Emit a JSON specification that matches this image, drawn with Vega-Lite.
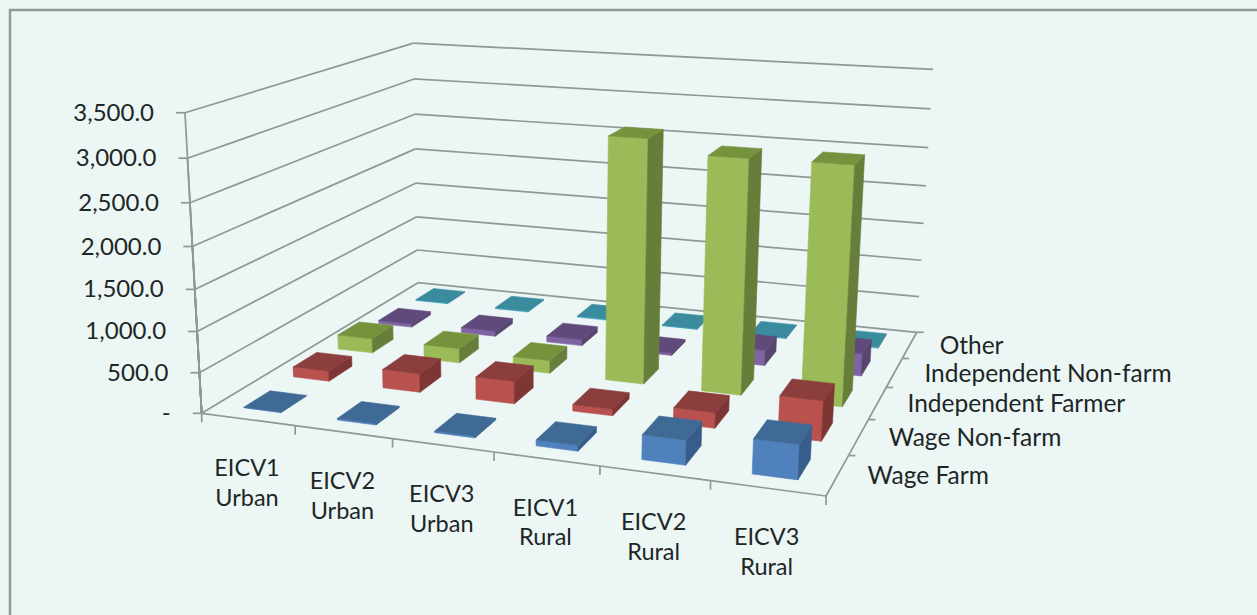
{
"$schema":"https://vega.github.io/schema/vega-lite/v6.json",
"width":1257,"height":615,
"autosize":{"type":"none"},
"padding":{"left":10,"top":10,"right":-10,"bottom":-10},
"background":"#ecf6f5",
"view":{"stroke":"#8f9a98","strokeWidth":2.5,"fill":null},
"datasets":{
"bars":[
{"type":"Other","period":"EICV1 Urban","value":12},{"type":"Other","period":"EICV2 Urban","value":14},{"type":"Other","period":"EICV3 Urban","value":14},{"type":"Other","period":"EICV1 Rural","value":10},{"type":"Other","period":"EICV2 Rural","value":12},{"type":"Other","period":"EICV3 Rural","value":14},
{"type":"Independent Non-farm","period":"EICV1 Urban","value":45},{"type":"Independent Non-farm","period":"EICV2 Urban","value":70},{"type":"Independent Non-farm","period":"EICV3 Urban","value":80},{"type":"Independent Non-farm","period":"EICV1 Rural","value":30},{"type":"Independent Non-farm","period":"EICV2 Rural","value":200},{"type":"Independent Non-farm","period":"EICV3 Rural","value":290},
{"type":"Independent Farmer","period":"EICV1 Urban","value":190},{"type":"Independent Farmer","period":"EICV2 Urban","value":190},{"type":"Independent Farmer","period":"EICV3 Urban","value":165},{"type":"Independent Farmer","period":"EICV1 Rural","value":3020},{"type":"Independent Farmer","period":"EICV2 Rural","value":2870},{"type":"Independent Farmer","period":"EICV3 Rural","value":2880},
{"type":"Wage Non-farm","period":"EICV1 Urban","value":130},{"type":"Wage Non-farm","period":"EICV2 Urban","value":235},{"type":"Wage Non-farm","period":"EICV3 Urban","value":280},{"type":"Wage Non-farm","period":"EICV1 Rural","value":80},{"type":"Wage Non-farm","period":"EICV2 Rural","value":190},{"type":"Wage Non-farm","period":"EICV3 Rural","value":480},
{"type":"Wage Farm","period":"EICV1 Urban","value":8},{"type":"Wage Farm","period":"EICV2 Urban","value":18},{"type":"Wage Farm","period":"EICV3 Urban","value":20},{"type":"Wage Farm","period":"EICV1 Rural","value":70},{"type":"Wage Farm","period":"EICV2 Rural","value":290},{"type":"Wage Farm","period":"EICV3 Rural","value":400}
],
"gridvalues":[{"value":0},{"value":500},{"value":1000},{"value":1500},{"value":2000},{"value":2500},{"value":3000},{"value":3500}],
"periods":[{"period":"EICV1 Urban"},{"period":"EICV2 Urban"},{"period":"EICV3 Urban"},{"period":"EICV1 Rural"},{"period":"EICV2 Rural"},{"period":"EICV3 Rural"}],
"types":[{"type":"Wage Farm"},{"type":"Wage Non-farm"},{"type":"Independent Farmer"},{"type":"Independent Non-farm"},{"type":"Other"}]
},
"layer":[
{"data":{"name":"gridvalues"},
"transform":[
{"calculate":"datum.value/3500","as":"w"},
{"calculate":"(201.7-25.5*datum.w)/(1-0.0475*datum.w)","as":"xa"},
{"calculate":"(413.3-307.9*datum.w)/(1-0.065*datum.w)","as":"ya"},
{"calculate":"(532.4-25.5*datum.w)/(1.2736-0.0475*datum.w)","as":"xb"},
{"calculate":"(360.05-307.9*datum.w)/(1.2736-0.065*datum.w)","as":"yb"}],
"mark":{"type":"rule","stroke":"#8f9797","strokeWidth":1.7},
"encoding":{"x":{"field":"xa","type":"quantitative","scale":{"domain":[10,1267],"nice":false,"zero":false},"axis":null},"y":{"field":"ya","type":"quantitative","scale":{"domain":[625,10],"nice":false,"zero":false},"axis":null},"x2":{"field":"xb"},"y2":{"field":"yb"}}},
{"data":{"name":"gridvalues"},
"transform":[
{"calculate":"datum.value/3500","as":"w"},
{"calculate":"(532.4-25.5*datum.w)/(1.2736-0.0475*datum.w)","as":"xa"},
{"calculate":"(360.05-307.9*datum.w)/(1.2736-0.065*datum.w)","as":"ya"},
{"calculate":"(1058.2-25.5*datum.w)/(1.1543-0.0475*datum.w)","as":"xb"},
{"calculate":"(383.55-307.9*datum.w)/(1.1543-0.065*datum.w)","as":"yb"}],
"mark":{"type":"rule","stroke":"#8f9797","strokeWidth":1.7},
"encoding":{"x":{"field":"xa","type":"quantitative"},"y":{"field":"ya","type":"quantitative"},"x2":{"field":"xb"},"y2":{"field":"yb"}}},
{"data":{"name":"gridvalues"},
"transform":[{"calculate":"datum.value/3500","as":"w"},
{"calculate":"(201.7-25.5*datum.w)/(1-0.0475*datum.w)","as":"xa"},
{"calculate":"(413.3-307.9*datum.w)/(1-0.065*datum.w)","as":"ya"},
{"calculate":"201.7","as":"xo"},{"calculate":"413.3","as":"yo"}],
"mark":{"type":"rule","stroke":"#8f9797","strokeWidth":1.7},
"encoding":{"x":{"field":"xa","type":"quantitative"},"y":{"field":"ya","type":"quantitative"},"x2":{"field":"xo"},"y2":{"field":"yo"}}},
{"data":{"name":"gridvalues"},
"transform":[{"calculate":"datum.value/3500","as":"w"},
{"calculate":"(201.7-25.5*datum.w)/(1-0.0475*datum.w)","as":"xa"},
{"calculate":"(413.3-307.9*datum.w)/(1-0.065*datum.w)","as":"ya"},
{"calculate":"datum.xa-9","as":"xt"}],
"mark":{"type":"rule","stroke":"#8f9797","strokeWidth":1.7},
"encoding":{"x":{"field":"xa","type":"quantitative"},"y":{"field":"ya","type":"quantitative"},"x2":{"field":"xt"},"y2":{"field":"ya"}}},
{"data":{"name":"gridvalues"},
"transform":[{"calculate":"datum.value/3500","as":"w"},
{"calculate":"(201.7-25.5*datum.w)/(1-0.0475*datum.w)","as":"xa"},
{"calculate":"(413.3-307.9*datum.w)/(1-0.065*datum.w)","as":"ya"},
{"calculate":"datum.value==0?'-':format(datum.value,',.1f')","as":"label"}],
"mark":{"type":"text","align":"right","baseline":"middle","dx":-31,"dy":1,"font":"Lato","fontSize":24,"color":"#1e2626"},
"encoding":{"x":{"field":"xa","type":"quantitative"},"y":{"field":"ya","type":"quantitative"},"text":{"field":"label"}}},
{"data":{"name":"periods"},
"transform":[
{"calculate":"indexof(['EICV1 Urban','EICV2 Urban','EICV3 Urban','EICV1 Rural','EICV2 Rural','EICV3 Rural'],datum.period)","as":"i"},
{"calculate":"datum.i/6","as":"ua"},{"calculate":"(datum.i+1)/6","as":"ub"},
{"calculate":"(201.7+525.8*datum.ua)/(1-0.1193*datum.ua)","as":"xa"},
{"calculate":"(413.3+23.5*datum.ua)/(1-0.1193*datum.ua)","as":"ya"},
{"calculate":"(201.7+525.8*datum.ub)/(1-0.1193*datum.ub)","as":"xb"},
{"calculate":"(413.3+23.5*datum.ub)/(1-0.1193*datum.ub)","as":"yb"}],
"mark":{"type":"rule","stroke":"#8f9797","strokeWidth":1.7},
"encoding":{"x":{"field":"xa","type":"quantitative"},"y":{"field":"ya","type":"quantitative"},"x2":{"field":"xb"},"y2":{"field":"yb"}}},
{"data":{"name":"periods"},
"transform":[
{"calculate":"indexof(['EICV1 Urban','EICV2 Urban','EICV3 Urban','EICV1 Rural','EICV2 Rural','EICV3 Rural'],datum.period)","as":"i"},
{"calculate":"datum.i/6","as":"ua"},
{"calculate":"(201.7+525.8*datum.ua)/(1-0.1193*datum.ua)","as":"xa"},
{"calculate":"(413.3+23.5*datum.ua)/(1-0.1193*datum.ua)","as":"ya"},
{"calculate":"datum.ya+9","as":"yt"}],
"mark":{"type":"rule","stroke":"#8f9797","strokeWidth":1.7},
"encoding":{"x":{"field":"xa","type":"quantitative"},"y":{"field":"ya","type":"quantitative"},"x2":{"field":"xa"},"y2":{"field":"yt"}}},
{"data":{"name":"periods"},
"transform":[
{"filter":"datum.period=='EICV3 Rural'"},
{"calculate":"(201.7+525.8)/(1-0.1193)","as":"xa"},
{"calculate":"(413.3+23.5)/(1-0.1193)","as":"ya"},
{"calculate":"datum.ya+9","as":"yt"}],
"mark":{"type":"rule","stroke":"#8f9797","strokeWidth":1.7},
"encoding":{"x":{"field":"xa","type":"quantitative"},"y":{"field":"ya","type":"quantitative"},"x2":{"field":"xa"},"y2":{"field":"yt"}}},
{"data":{"name":"types"},
"transform":[
{"calculate":"indexof(['Wage Farm','Wage Non-farm','Independent Farmer','Independent Non-farm','Other'],datum.type)","as":"j"},
{"calculate":"datum.j/5","as":"va"},{"calculate":"(datum.j+1)/5","as":"vb"},
{"calculate":"(727.5+330.7*datum.va)/(0.8807+0.2736*datum.va)","as":"xa"},
{"calculate":"(436.8-53.25*datum.va)/(0.8807+0.2736*datum.va)","as":"ya"},
{"calculate":"(727.5+330.7*datum.vb)/(0.8807+0.2736*datum.vb)","as":"xb"},
{"calculate":"(436.8-53.25*datum.vb)/(0.8807+0.2736*datum.vb)","as":"yb"}],
"mark":{"type":"rule","stroke":"#8f9797","strokeWidth":1.7},
"encoding":{"x":{"field":"xa","type":"quantitative"},"y":{"field":"ya","type":"quantitative"},"x2":{"field":"xb"},"y2":{"field":"yb"}}},
{"data":{"name":"types"},
"transform":[
{"calculate":"indexof(['Wage Farm','Wage Non-farm','Independent Farmer','Independent Non-farm','Other'],datum.type)","as":"j"},
{"calculate":"(datum.j+1)/5","as":"vb"},
{"calculate":"(727.5+330.7*datum.vb)/(0.8807+0.2736*datum.vb)","as":"xb"},
{"calculate":"(436.8-53.25*datum.vb)/(0.8807+0.2736*datum.vb)","as":"yb"},
{"calculate":"datum.xb+7","as":"xt"}],
"mark":{"type":"rule","stroke":"#8f9797","strokeWidth":1.7},
"encoding":{"x":{"field":"xb","type":"quantitative"},"y":{"field":"yb","type":"quantitative"},"x2":{"field":"xt"},"y2":{"field":"yb"}}},
{"data":{"name":"bars"},
"transform":[
{"calculate":"indexof(['EICV1 Urban','EICV2 Urban','EICV3 Urban','EICV1 Rural','EICV2 Rural','EICV3 Rural'],datum.period)","as":"i"},
{"calculate":"indexof(['Wage Farm','Wage Non-farm','Independent Farmer','Independent Non-farm','Other'],datum.type)","as":"j"},
{"calculate":"['front','side','top']","as":"face"},{"flatten":["face"]},
{"calculate":"[0,1,2,3]","as":"corner"},{"flatten":["corner"]},
{"calculate":"datum.type+'|'+datum.face","as":"shade"},
{"calculate":"datum.value/3500","as":"h"},
{"calculate":"(datum.i+0.5)/6-0.0335","as":"u0"},{"calculate":"(datum.i+0.5)/6+0.0335","as":"u1"},
{"calculate":"(datum.j+0.5)/5-0.045","as":"v0"},{"calculate":"(datum.j+0.5)/5+0.058","as":"v1"},
{"calculate":"datum.face=='side'?datum.u1:((datum.corner==1||datum.corner==2)?datum.u1:datum.u0)","as":"u"},
{"calculate":"datum.face=='front'?datum.v0:(datum.face=='side'?((datum.corner==1||datum.corner==2)?datum.v1:datum.v0):(datum.corner>=2?datum.v1:datum.v0))","as":"v"},
{"calculate":"datum.face=='top'?datum.h:(datum.corner>=2?datum.h:0)","as":"w"},
{"calculate":"(201.7+525.8*datum.u+330.7*datum.v-25.5*datum.w)/(1-0.1193*datum.u+0.2736*datum.v-0.0475*datum.w)","as":"px"},
{"calculate":"(413.3+23.5*datum.u-53.25*datum.v-307.9*datum.w)/(1-0.1193*datum.u+0.2736*datum.v-0.065*datum.w)","as":"py"}],
"mark":{"type":"line","interpolate":"linear-closed","strokeWidth":0.6},
"encoding":{
"x":{"field":"px","type":"quantitative"},
"y":{"field":"py","type":"quantitative"},
"order":{"field":"corner","type":"ordinal"},
"detail":{"field":"period"},
"fill":{"field":"shade","type":"nominal","legend":null,"scale":{"domain":["Wage Farm|front","Wage Farm|side","Wage Farm|top","Wage Non-farm|front","Wage Non-farm|side","Wage Non-farm|top","Independent Farmer|front","Independent Farmer|side","Independent Farmer|top","Independent Non-farm|front","Independent Non-farm|side","Independent Non-farm|top","Other|front","Other|side","Other|top"],"range":["#4f81bd","#385d8a","#3f6a96","#b9514e","#7d3633","#8b3e3c","#9bbb59","#677e3a","#75923c","#8064a2","#57446f","#604a7b","#46aac5","#357d90","#3b8b9e"]}},
"stroke":{"field":"shade","type":"nominal","legend":null,"scale":{"domain":["Wage Farm|front","Wage Farm|side","Wage Farm|top","Wage Non-farm|front","Wage Non-farm|side","Wage Non-farm|top","Independent Farmer|front","Independent Farmer|side","Independent Farmer|top","Independent Non-farm|front","Independent Non-farm|side","Independent Non-farm|top","Other|front","Other|side","Other|top"],"range":["#4f81bd","#385d8a","#3f6a96","#b9514e","#7d3633","#8b3e3c","#9bbb59","#677e3a","#75923c","#8064a2","#57446f","#604a7b","#46aac5","#357d90","#3b8b9e"]}}
}},
{"data":{"name":"periods"},
"transform":[
{"calculate":"indexof(['EICV1 Urban','EICV2 Urban','EICV3 Urban','EICV1 Rural','EICV2 Rural','EICV3 Rural'],datum.period)","as":"i"},
{"calculate":"(datum.i+0.5)/6","as":"ua"},
{"calculate":"(201.7+525.8*datum.ua)/(1-0.1193*datum.ua)","as":"xa"},
{"calculate":"(413.3+23.5*datum.ua)/(1-0.1193*datum.ua)","as":"ya"},
{"calculate":"replace(datum.period,' ','\\n')","as":"label"}],
"mark":{"type":"text","align":"center","baseline":"top","lineBreak":"\n","lineHeight":29.5,"dx":-1,"dy":38,"font":"Lato","fontSize":23.5,"color":"#1e2626"},
"encoding":{"x":{"field":"xa","type":"quantitative"},"y":{"field":"ya","type":"quantitative"},"text":{"field":"label"}}},
{"data":{"name":"types"},
"transform":[
{"calculate":"indexof(['Wage Farm','Wage Non-farm','Independent Farmer','Independent Non-farm','Other'],datum.type)","as":"j"},
{"calculate":"(datum.j+0.5)/5","as":"va"},
{"calculate":"(727.5+330.7*datum.va)/(0.8807+0.2736*datum.va)","as":"xa"},
{"calculate":"(436.8-53.25*datum.va)/(0.8807+0.2736*datum.va)","as":"ya"}],
"mark":{"type":"text","align":"left","baseline":"middle","dx":30,"dy":2,"font":"Lato","fontSize":24.5,"color":"#1e2626"},
"encoding":{"x":{"field":"xa","type":"quantitative"},"y":{"field":"ya","type":"quantitative"},"text":{"field":"type"}}}
]
}
